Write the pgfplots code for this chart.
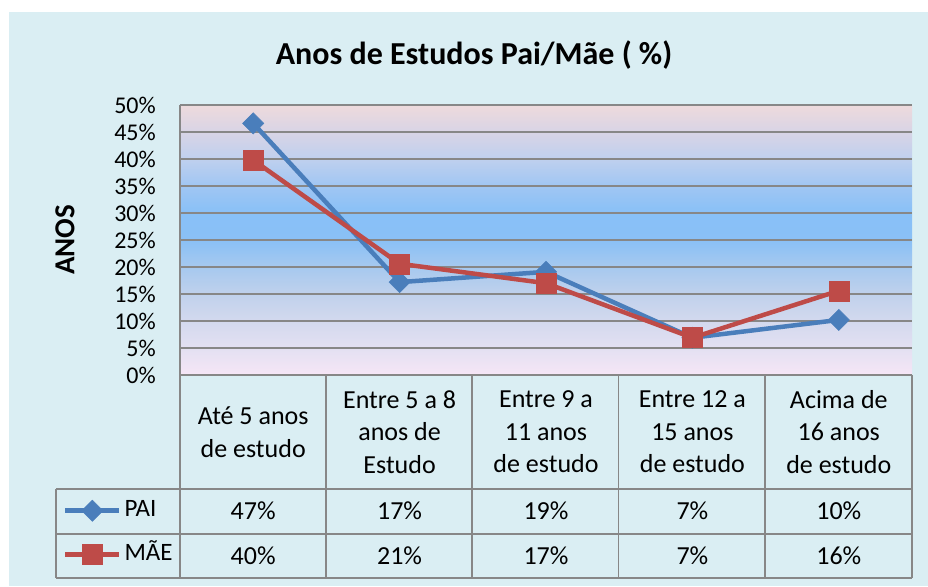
\documentclass[border=0pt]{standalone}
\usepackage{fontspec}
\setmainfont{Carlito}
\usepackage{pgfplots}
\pgfplotsset{compat=1.18}
\definecolor{bg}{HTML}{DAEEF3}
\definecolor{gridc}{HTML}{878787}
\definecolor{pai}{HTML}{4A7EBB}
\definecolor{mae}{HTML}{BE4B48}
\definecolor{g00}{HTML}{F6E6F6}
\definecolor{g05}{HTML}{E3E0F2}
\definecolor{g10}{HTML}{D3D9EE}
\definecolor{g15}{HTML}{C0D1EC}
\definecolor{g20}{HTML}{A6C9EF}
\definecolor{g25}{HTML}{8AC0F6}
\definecolor{g30}{HTML}{88C0F7}
\definecolor{g35}{HTML}{A0C6F3}
\definecolor{g40}{HTML}{BFD0EE}
\definecolor{g45}{HTML}{D8D4E6}
\definecolor{g50}{HTML}{EEDADC}
\pgfdeclareverticalshading{plotbg}{100bp}{color(0bp)=(g00); color(25bp)=(g00); color(30bp)=(g05); color(35bp)=(g10); color(40bp)=(g15); color(45bp)=(g20); color(50bp)=(g25); color(55bp)=(g30); color(60bp)=(g35); color(65bp)=(g40); color(70bp)=(g45); color(75bp)=(g50); color(100bp)=(g50)}
\begin{document}
\begin{tikzpicture}[x=1pt,y=1pt]
\fill[white] (0,0) rectangle (928,586);
\fill[bg] (9,0) rectangle (928,574);
% title and y label
\node[font=\fontsize{32}{38}\selectfont\bfseries] at (474,531) {Anos de Estudos Pai/Mãe ( \%)};
\node[font=\fontsize{29}{34}\selectfont\bfseries, rotate=90] at (65,346) {ANOS};
\begin{axis}[
  at={(180pt,211pt)}, anchor=south west,
  scale only axis, width=732pt, height=270pt,
  xmin=-0.5, xmax=4.5, ymin=0, ymax=50,
  xtick=\empty, ytick={0,5,10,15,20,25,30,35,40,45,50},
  axis x line=bottom, axis y line=left,
  axis line style={-, gridc, line width=1.8pt},
  ymajorgrids, grid style={gridc, line width=1.8pt},
  major tick length=0pt,
  yticklabel={\pgfmathprintnumber{\tick}\%},
  /pgf/number format/assume math mode=true,
  yticklabel style={font=\fontsize{24}{28}\selectfont, anchor=east, inner sep=0pt, xshift=-24pt},
  axis background/.style={shading=plotbg},
  clip=false,
  legend image code/.code={\draw[#1, mark repeat=2, mark phase=2] plot coordinates {(0pt,0pt)(27pt,0pt)(54pt,0pt)};},
  legend style={at={(axis description cs:-0.160,-0.4593)}, anchor=north west,
    draw=none, fill=none, inner sep=0pt, row sep=21pt,
    font=\fontsize{25}{28}\selectfont,
    nodes={inner sep=0pt, text height=17pt, text depth=6pt},
    legend cell align=left},
]
\addplot[pai, line width=4.5pt, mark=square*, mark size=7.5pt, mark options={rotate=45, line width=0.5pt}]
  coordinates {(0,46.6) (1,17.2) (2,19.1) (3,6.9) (4,10.2)};
\addlegendentry{\hspace{3pt}PAI}
\addplot[mae, line width=4.5pt, mark=square*, mark size=10pt, mark options={line width=0.5pt}]
  coordinates {(0,39.8) (1,20.6) (2,17.0) (3,6.9) (4,15.6)};
\addlegendentry{\hspace{3pt}MÃE}
\end{axis}
% data table
\begin{scope}[gridc, line width=1.8pt]
\draw (56,97) -- (912,97);
\draw (56,52) -- (912,52);
\draw (56,8) -- (912,8);
\draw (56,97) -- (56,8);
\draw (180,211) -- (180,8);
\foreach \xx in {325.6,472,618.4,764.8,912} {\draw (\xx,211) -- (\xx,8);}
\end{scope}
\begin{scope}[every node/.style={font=\fontsize{26}{32.5}\selectfont, align=center}]
\node at (253.2,154) {Até 5 anos\\de estudo};
\node at (399.6,154) {Entre 5 a 8\\anos de\\Estudo};
\node at (546,154) {Entre 9 a\\11 anos\\de estudo};
\node at (692.4,154) {Entre 12 a\\15 anos\\de estudo};
\node at (838.8,154) {Acima de\\16 anos\\de estudo};
\node at (253.2,75) {47\%};
\node at (399.6,75) {17\%};
\node at (546,75) {19\%};
\node at (692.4,75) {7\%};
\node at (838.8,75) {10\%};
\node at (253.2,30) {40\%};
\node at (399.6,30) {21\%};
\node at (546,30) {17\%};
\node at (692.4,30) {7\%};
\node at (838.8,30) {16\%};
\end{scope}
\end{tikzpicture}
\end{document}
